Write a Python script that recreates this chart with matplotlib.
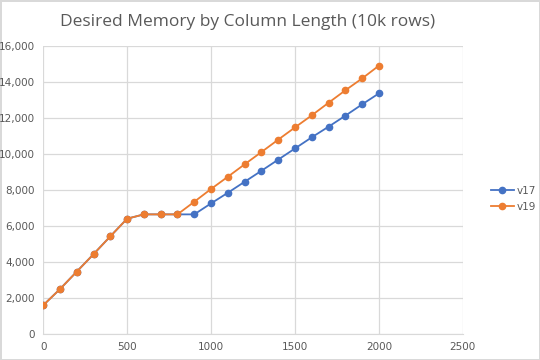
import matplotlib.pyplot as plt
from matplotlib.ticker import FuncFormatter, MultipleLocator

# -------------------------------
# Data
# -------------------------------
col_length = [0, 100, 200, 300, 400, 500, 600, 700, 800, 900, 1000,
              1100, 1200, 1300, 1400, 1500, 1600, 1700, 1800, 1900, 2000]
v17 = [1600, 2500, 3470, 4440, 5430, 6410, 6650, 6650, 6650, 6650, 7260,
       7850, 8460, 9070, 9690, 10310, 10930, 11520, 12130, 12760, 13370]
v19 = [1600, 2500, 3470, 4440, 5430, 6410, 6650, 6650, 6650, 7350, 8060,
       8740, 9430, 10110, 10800, 11480, 12150, 12850, 13540, 14200, 14910]

blue = "#4472C4"
orange = "#ED7D31"
gray_text = "#595959"
grid_col = "#D9D9D9"

fig = plt.figure(figsize=(5.4, 3.6), dpi=100)
fig.patch.set_edgecolor("#D9D9D9")
fig.patch.set_linewidth(1)
ax = fig.add_axes([0.08, 0.072, 0.777, 0.8])

ax.plot(col_length, v17, color=blue, marker="o", markersize=4.5, linewidth=1.3, label="v17", zorder=3)
ax.plot(col_length, v19, color=orange, marker="o", markersize=4.5, linewidth=1.3, label="v19", zorder=4)

ax.set_xlim(0, 2500)
ax.set_ylim(0, 16000)
ax.xaxis.set_major_locator(MultipleLocator(500))
ax.yaxis.set_major_locator(MultipleLocator(2000))
ax.yaxis.set_major_formatter(FuncFormatter(lambda v, p: f"{int(v):,}"))
ax.grid(True, color=grid_col, linewidth=0.9)
ax.set_axisbelow(True)
for s in ["top", "right", "left"]:
    ax.spines[s].set_visible(False)
ax.spines["bottom"].set_color(grid_col)
ax.tick_params(length=0, labelsize=7.5, labelcolor=gray_text, pad=6)

fig.suptitle("Desired Memory by Column Length (10k rows)", x=0.458, y=0.96,
             fontsize=12.5, color=gray_text, family="Open Sans")

ax.legend(loc="center left", bbox_to_anchor=(1.045, 0.47), frameon=False,
          fontsize=7.5, labelcolor=gray_text, handlelength=2.2, labelspacing=0.6,
          handletextpad=0.3)

fig.savefig("out.png", dpi=100)
